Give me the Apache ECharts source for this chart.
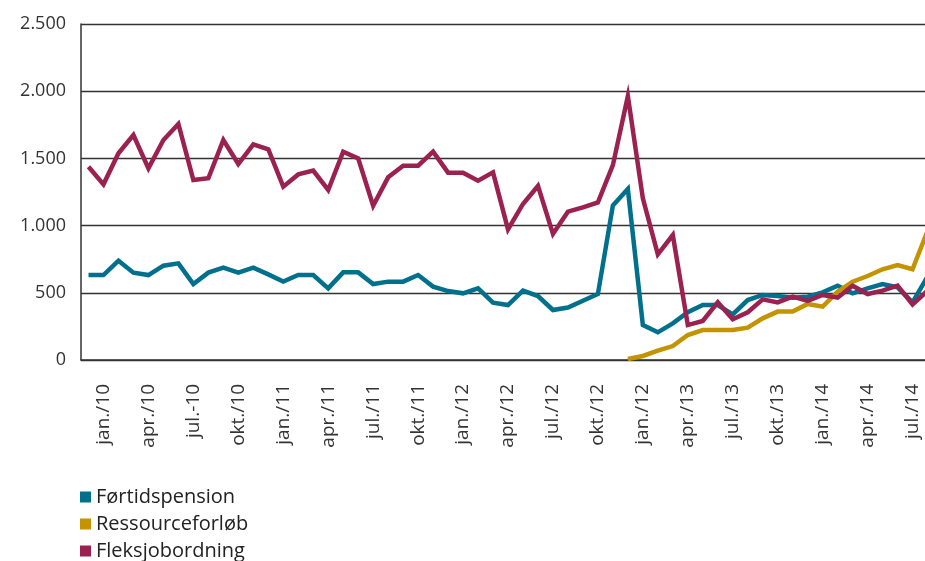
<!DOCTYPE html>
<html>
<head>
<meta charset="utf-8">
<script src="https://cdn.jsdelivr.net/npm/echarts@6/dist/echarts.min.js"></script>
<style>
  html, body { margin: 0; padding: 0; background: #fff; overflow: hidden; }
  /* plottet fortsætter lidt ud over højre kant, som i originalen */
  #chart { width: 935px; height: 561px; }
</style>
</head>
<body>
<div id="chart"></div>
<script>
  // måneder jan 2010 - sep 2014
  var months = [];
  for (var y = 10; y <= 14; y++) {
    ['jan', 'feb', 'mar', 'apr', 'maj', 'jun', 'jul', 'aug', 'sep', 'okt', 'nov', 'dec'].forEach(function (m) {
      months.push(m + '/' + y);
    });
  }
  months = months.slice(0, 57);

  // etiketter på x-aksen (én pr. kvartal, som i originalen)
  var tickLabels = ['jan./10', 'apr./10', 'jul.-10', 'okt./10', 'jan./11', 'apr./11', 'jul./11', 'okt./11',
    'jan./12', 'apr./12', 'jul./12', 'okt./12', 'jan./12', 'apr./13', 'jul./13', 'okt./13',
    'jan./14', 'apr./14', 'jul./14'];

  var fortidspension = [
    632, 632, 739, 650, 632, 702, 719, 565, 650, 687, 650, 687,
    637, 583, 632, 632, 533, 652, 652, 565, 583, 583, 632, 546,
    513, 496, 533, 427, 409, 516, 476, 372, 390, 441, 491, 1150,
    1272, 260, 206, 273, 355, 409, 409, 340, 446, 484, 476, 464,
    471, 503, 553, 496, 533, 565, 541, 429, 620
  ];
  var ressourceforlob = [
    null, null, null, null, null, null, null, null, null, null, null, null,
    null, null, null, null, null, null, null, null, null, null, null, null,
    null, null, null, null, null, null, null, null, null, null, null, null,
    7, 30, 69, 104, 186, 223, 223, 223, 241, 310, 360, 360,
    417, 397, 508, 583, 625, 675, 707, 675, 960
  ];
  var fleksjob = [
    1438, 1307, 1538, 1674, 1426, 1637, 1756, 1339, 1352, 1637, 1458, 1605,
    1568, 1290, 1381, 1409, 1265, 1550, 1500, 1148, 1359, 1446, 1446, 1550,
    1394, 1394, 1334, 1396, 972, 1161, 1295, 938, 1104, 1136, 1173, 1450,
    1964, 1203, 786, 930, 260, 290, 429, 303, 355, 451, 429, 471,
    439, 484, 464, 553, 491, 516, 553, 414, 515
  ];

  var font = '"Open Sans", sans-serif';
  var myChart = echarts.init(document.getElementById('chart'));

  function line(name, data, color) {
    return {
      name: name,
      type: 'line',
      data: data,
      symbol: 'none',
      connectNulls: false,
      lineStyle: { width: 4.5, color: color, join: 'miter' },
      itemStyle: { color: color },
      animation: false
    };
  }

  myChart.setOption({
    animation: false,
    grid: { left: 81, right: 0, top: 24, bottom: 201, containLabel: false },
    legend: {
      orient: 'vertical',
      left: 80,
      top: 487,
      height: 150,
      padding: 0,
      itemWidth: 11,
      itemHeight: 11,
      itemGap: 7,
      icon: 'rect',
      textStyle: { fontFamily: font, fontSize: 20, color: '#222', lineHeight: 20 },
      data: ['Førtidspension', 'Ressourceforløb', 'Fleksjobordning']
    },
    xAxis: {
      type: 'category',
      data: months,
      boundaryGap: true,
      axisLine: { lineStyle: { color: '#333', width: 1.5 } },
      axisTick: {
        length: 7,
        lineStyle: { color: '#333', width: 1.5 },
        interval: function (i) { return i % 3 === 0; }
      },
      axisLabel: {
        rotate: 90,
        margin: 24,
        fontFamily: font,
        fontSize: 19,
        color: '#333',
        interval: function (i) { return i % 3 === 1; },
        formatter: function (v, i) { return tickLabels[Math.floor(i / 3)] || ''; }
      },
      splitLine: { show: false }
    },
    yAxis: {
      type: 'value',
      min: 0,
      max: 2500,
      interval: 500,
      axisLine: { show: true, lineStyle: { color: '#333', width: 1.5 } },
      axisTick: { show: false },
      axisLabel: {
        margin: 15,
        fontFamily: font,
        fontSize: 18,
        color: '#333',
        formatter: function (v) { return v >= 1000 ? Math.floor(v / 1000) + '.' + String(v % 1000).padStart(3, '0') : String(v); }
      },
      splitLine: { lineStyle: { color: '#333', width: 1.3 } }
    },
    series: [
      line('Førtidspension', fortidspension, '#00708c'),
      line('Ressourceforløb', ressourceforlob, '#c49300'),
      line('Fleksjobordning', fleksjob, '#9a2150')
    ]
  });
</script>
</body>
</html>
